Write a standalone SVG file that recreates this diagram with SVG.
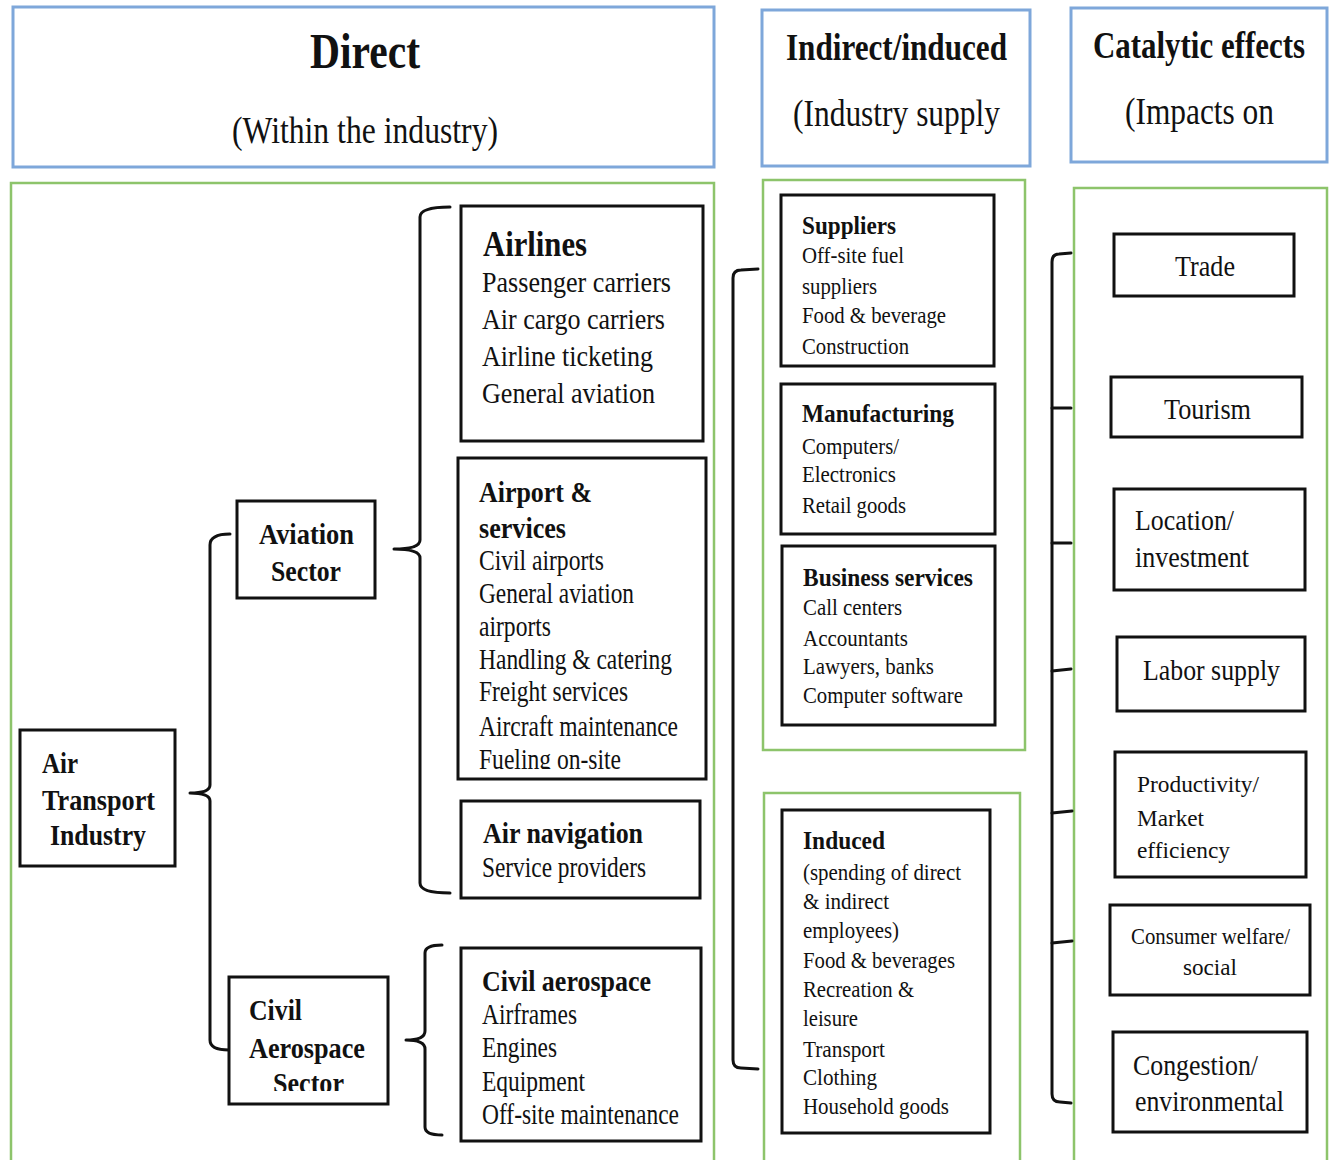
<svg xmlns="http://www.w3.org/2000/svg" width="1332" height="1160" viewBox="0 0 1332 1160">
<style>
.hdr{fill:#fff;stroke:#7ea7da;stroke-width:3}
.grp{fill:none;stroke:#8dc46b;stroke-width:2.5}
.box{fill:#fff;stroke:#111;stroke-width:3}
.con{fill:none;stroke:#111;stroke-width:3;stroke-linecap:round;stroke-linejoin:round}
text{font-family:'Liberation Serif','Times New Roman',serif;fill:#111}
.b{font-weight:bold}
.h1{font-size:50px}
.h2{font-size:38px}
.l{font-size:30px}
.m{font-size:29px}
.s{font-size:24px}
.sb{font-size:26px}
</style>
<defs>
<clipPath id="clipSector"><rect x="229" y="977" width="160" height="114"/></clipPath>
<clipPath id="clipFuel"><rect x="458" y="458" width="248" height="311"/></clipPath>
</defs>
<rect width="1332" height="1160" fill="#fff"/>
<g font-family="Liberation Serif, Times New Roman, serif">

<g id="headers">
<g id="hdr-direct">
<rect class="hdr" x="13" y="7" width="701" height="160"/>
<text class="b h1" x="310" y="68" textLength="110" lengthAdjust="spacingAndGlyphs">Direct</text>
<text class="h2" x="232" y="143" textLength="266" lengthAdjust="spacingAndGlyphs">(Within the industry)</text>
</g>
<g id="hdr-indirect">
<rect class="hdr" x="762" y="10" width="268" height="156"/>
<text class="b h2" x="786" y="60" textLength="221" lengthAdjust="spacingAndGlyphs">Indirect/induced</text>
<text class="h2" x="793" y="126" textLength="207" lengthAdjust="spacingAndGlyphs">(Industry supply</text>
</g>
<g id="hdr-catalytic">
<rect class="hdr" x="1071" y="8" width="256" height="154"/>
<text class="b h2" x="1093" y="58" textLength="212" lengthAdjust="spacingAndGlyphs">Catalytic effects</text>
<text class="h2" x="1125" y="124" textLength="149" lengthAdjust="spacingAndGlyphs">(Impacts on</text>
</g>
</g>

<g id="groups">
<rect class="grp" x="11" y="183" width="703" height="980"/>
<rect class="grp" x="763" y="180" width="262" height="570"/>
<rect class="grp" x="764" y="793" width="256" height="370"/>
<rect class="grp" x="1074" y="188" width="253" height="975"/>
</g>

<g id="connectors">
<path class="con" d="M230,534 Q210,534 210,545 L210,785 Q210,793 190,793 Q210,793 210,801 L210,1040 Q210,1050 229,1050"/>
<path class="con" d="M450,207 Q420,207 420,217 L420,540 Q420,549 394,549 Q420,549 420,558 L420,883 Q420,893 450,893"/>
<path class="con" d="M442,945 Q425,945 425,953 L425,1031 Q425,1040 406,1040 Q425,1040 425,1049 L425,1127 Q425,1135 442,1135"/>
<path class="con" d="M758,269 L741,270 Q733,270 733,278 L733,1060 Q733,1068 741,1068 L758,1069"/>
<path class="con" d="M1071,253 L1059,254 Q1052,254 1052,262 L1052,1094 Q1052,1102 1060,1102 L1071,1103"/>
<path class="con" d="M1052,408 L1071,408 M1052,543 L1071,543 M1052,671 L1071,669 M1052,813 L1072,811 M1052,943 L1072,941"/>
</g>

<g id="n-air-transport">
<rect class="box" x="20" y="730" width="155" height="136"/>
<text class="b l" x="42" y="773" textLength="36" lengthAdjust="spacingAndGlyphs">Air</text>
<text class="b l" x="42" y="810" textLength="113" lengthAdjust="spacingAndGlyphs">Transport</text>
<text class="b l" x="50" y="845" textLength="96" lengthAdjust="spacingAndGlyphs">Industry</text>
</g>

<g id="n-aviation-sector">
<rect class="box" x="237" y="501" width="138" height="97"/>
<text class="b l" x="259" y="544" textLength="95" lengthAdjust="spacingAndGlyphs">Aviation</text>
<text class="b l" x="271" y="581" textLength="70" lengthAdjust="spacingAndGlyphs">Sector</text>
</g>

<g id="n-civil-aerospace-sector">
<rect class="box" x="229" y="977" width="159" height="127"/>
<text class="b l" x="249" y="1020" textLength="53" lengthAdjust="spacingAndGlyphs">Civil</text>
<text class="b l" x="249" y="1058" textLength="116" lengthAdjust="spacingAndGlyphs">Aerospace</text>
<text class="b l" x="273" y="1093" textLength="71" lengthAdjust="spacingAndGlyphs" clip-path="url(#clipSector)">Sector</text>
</g>

<g id="n-airlines">
<rect class="box" x="461" y="206" width="242" height="235"/>
<text class="b" font-size="35" x="483" y="256" textLength="104" lengthAdjust="spacingAndGlyphs">Airlines</text>
<text class="m" x="482" y="292" textLength="189" lengthAdjust="spacingAndGlyphs">Passenger carriers</text>
<text class="m" x="482" y="329" textLength="183" lengthAdjust="spacingAndGlyphs">Air cargo carriers</text>
<text class="m" x="482" y="366" textLength="171" lengthAdjust="spacingAndGlyphs">Airline ticketing</text>
<text class="m" x="482" y="403" textLength="173" lengthAdjust="spacingAndGlyphs">General aviation</text>
</g>

<g id="n-airport">
<rect class="box" x="458" y="458" width="248" height="321"/>
<text class="b l" x="479" y="502" textLength="113" lengthAdjust="spacingAndGlyphs">Airport &amp;</text>
<text class="b l" x="479" y="538" textLength="87" lengthAdjust="spacingAndGlyphs">services</text>
<text class="m" x="479" y="570" textLength="125" lengthAdjust="spacingAndGlyphs">Civil airports</text>
<text class="m" x="479" y="603" textLength="155" lengthAdjust="spacingAndGlyphs">General aviation</text>
<text class="m" x="479" y="636" textLength="72" lengthAdjust="spacingAndGlyphs">airports</text>
<text class="m" x="479" y="669" textLength="193" lengthAdjust="spacingAndGlyphs">Handling &amp; catering</text>
<text class="m" x="479" y="701" textLength="149" lengthAdjust="spacingAndGlyphs">Freight services</text>
<text class="m" x="479" y="736" textLength="199" lengthAdjust="spacingAndGlyphs">Aircraft maintenance</text>
<text class="m" x="479" y="769" textLength="142" lengthAdjust="spacingAndGlyphs" clip-path="url(#clipFuel)">Fueling on-site</text>
</g>

<g id="n-air-navigation">
<rect class="box" x="461" y="801" width="239" height="97"/>
<text class="b l" x="483" y="843" textLength="160" lengthAdjust="spacingAndGlyphs">Air navigation</text>
<text class="m" x="482" y="877" textLength="164" lengthAdjust="spacingAndGlyphs">Service providers</text>
</g>

<g id="n-civil-aerospace">
<rect class="box" x="461" y="948" width="240" height="193"/>
<text class="b l" x="482" y="991" textLength="169" lengthAdjust="spacingAndGlyphs">Civil aerospace</text>
<text class="m" x="482" y="1024" textLength="95" lengthAdjust="spacingAndGlyphs">Airframes</text>
<text class="m" x="482" y="1057" textLength="75" lengthAdjust="spacingAndGlyphs">Engines</text>
<text class="m" x="482" y="1091" textLength="103" lengthAdjust="spacingAndGlyphs">Equipment</text>
<text class="m" x="482" y="1124" textLength="197" lengthAdjust="spacingAndGlyphs">Off-site maintenance</text>
</g>

<g id="n-suppliers">
<rect class="box" x="781" y="195" width="213" height="171"/>
<text class="b sb" x="802" y="234" textLength="94" lengthAdjust="spacingAndGlyphs">Suppliers</text>
<text class="s" x="802" y="263" textLength="102" lengthAdjust="spacingAndGlyphs">Off-site fuel</text>
<text class="s" x="802" y="294" textLength="75" lengthAdjust="spacingAndGlyphs">suppliers</text>
<text class="s" x="802" y="323" textLength="144" lengthAdjust="spacingAndGlyphs">Food &amp; beverage</text>
<text class="s" x="802" y="354" textLength="107" lengthAdjust="spacingAndGlyphs">Construction</text>
</g>

<g id="n-manufacturing">
<rect class="box" x="781" y="384" width="214" height="150"/>
<text class="b sb" x="802" y="422" textLength="152" lengthAdjust="spacingAndGlyphs">Manufacturing</text>
<text class="s" x="802" y="454" textLength="97" lengthAdjust="spacingAndGlyphs">Computers/</text>
<text class="s" x="802" y="482" textLength="94" lengthAdjust="spacingAndGlyphs">Electronics</text>
<text class="s" x="802" y="513" textLength="104" lengthAdjust="spacingAndGlyphs">Retail goods</text>
</g>

<g id="n-business">
<rect class="box" x="782" y="546" width="213" height="179"/>
<text class="b sb" x="803" y="586" textLength="170" lengthAdjust="spacingAndGlyphs">Business services</text>
<text class="s" x="803" y="615" textLength="99" lengthAdjust="spacingAndGlyphs">Call centers</text>
<text class="s" x="803" y="646" textLength="105" lengthAdjust="spacingAndGlyphs">Accountants</text>
<text class="s" x="803" y="674" textLength="131" lengthAdjust="spacingAndGlyphs">Lawyers, banks</text>
<text class="s" x="803" y="703" textLength="160" lengthAdjust="spacingAndGlyphs">Computer software</text>
</g>

<g id="n-induced">
<rect class="box" x="782" y="810" width="208" height="323"/>
<text class="b sb" x="803" y="849" textLength="82" lengthAdjust="spacingAndGlyphs">Induced</text>
<text class="s" x="803" y="880" textLength="158" lengthAdjust="spacingAndGlyphs">(spending of direct</text>
<text class="s" x="803" y="909" textLength="86" lengthAdjust="spacingAndGlyphs">&amp; indirect</text>
<text class="s" x="803" y="938" textLength="96" lengthAdjust="spacingAndGlyphs">employees)</text>
<text class="s" x="803" y="968" textLength="152" lengthAdjust="spacingAndGlyphs">Food &amp; beverages</text>
<text class="s" x="803" y="997" textLength="111" lengthAdjust="spacingAndGlyphs">Recreation &amp;</text>
<text class="s" x="803" y="1026" textLength="55" lengthAdjust="spacingAndGlyphs">leisure</text>
<text class="s" x="803" y="1057" textLength="82" lengthAdjust="spacingAndGlyphs">Transport</text>
<text class="s" x="803" y="1085" textLength="74" lengthAdjust="spacingAndGlyphs">Clothing</text>
<text class="s" x="803" y="1114" textLength="146" lengthAdjust="spacingAndGlyphs">Household goods</text>
</g>

<g id="n-trade">
<rect class="box" x="1114" y="234" width="180" height="62"/>
<text class="m" x="1175" y="276" textLength="60" lengthAdjust="spacingAndGlyphs">Trade</text>
</g>
<g id="n-tourism">
<rect class="box" x="1111" y="377" width="191" height="60"/>
<text class="m" x="1164" y="419" textLength="87" lengthAdjust="spacingAndGlyphs">Tourism</text>
</g>
<g id="n-location">
<rect class="box" x="1114" y="489" width="191" height="101"/>
<text class="m" x="1135" y="530" textLength="99" lengthAdjust="spacingAndGlyphs">Location/</text>
<text class="m" x="1135" y="567" textLength="114" lengthAdjust="spacingAndGlyphs">investment</text>
</g>
<g id="n-labor">
<rect class="box" x="1117" y="637" width="188" height="74"/>
<text class="m" x="1143" y="680" textLength="137" lengthAdjust="spacingAndGlyphs">Labor supply</text>
</g>
<g id="n-productivity">
<rect class="box" x="1115" y="752" width="191" height="125"/>
<text class="s" font-size="27" x="1137" y="792" textLength="122" lengthAdjust="spacingAndGlyphs">Productivity/</text>
<text class="s" font-size="27" x="1137" y="826" textLength="67" lengthAdjust="spacingAndGlyphs">Market</text>
<text class="s" font-size="27" x="1137" y="858" textLength="93" lengthAdjust="spacingAndGlyphs">efficiency</text>
</g>
<g id="n-consumer">
<rect class="box" x="1110" y="905" width="200" height="90"/>
<text class="s" x="1131" y="944" textLength="159" lengthAdjust="spacingAndGlyphs">Consumer welfare/</text>
<text class="s" x="1183" y="975" textLength="54" lengthAdjust="spacingAndGlyphs">social</text>
</g>
<g id="n-congestion">
<rect class="box" x="1113" y="1032" width="194" height="100"/>
<text class="m" x="1133" y="1075" textLength="125" lengthAdjust="spacingAndGlyphs">Congestion/</text>
<text class="m" x="1135" y="1111" textLength="149" lengthAdjust="spacingAndGlyphs">environmental</text>
</g>
</g>
</svg>
